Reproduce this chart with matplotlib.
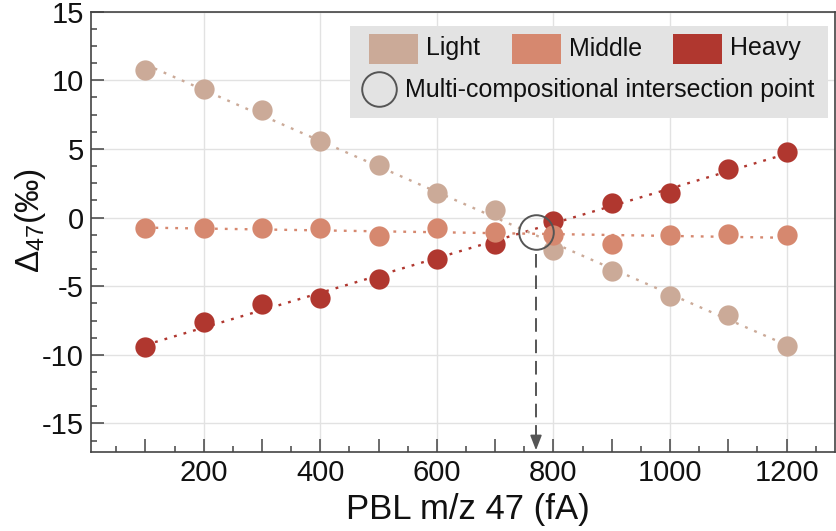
import numpy as np
import matplotlib
matplotlib.use("Agg")
import matplotlib.pyplot as plt
from matplotlib.ticker import MultipleLocator, FuncFormatter
from matplotlib.transforms import Affine2D
from matplotlib.patches import Rectangle
from matplotlib.lines import Line2D

plt.rcParams['font.family'] = ['Liberation Sans', 'DejaVu Sans']
plt.rcParams['mathtext.fontset'] = 'custom'
plt.rcParams['mathtext.rm'] = 'Liberation Sans'
plt.rcParams['mathtext.it'] = 'Liberation Sans'
plt.rcParams['axes.unicode_minus'] = False

# PBL m/z 47 beam intensity (fA)
pbl = [100, 200, 300, 400, 500, 600, 700, 800, 900, 1000, 1100, 1200]
# Δ47 offsets (‰) for the three gas compositions
light = [10.75, 9.34, 7.83, 5.58, 3.83, 1.80, 0.55, -2.37, -3.88, -5.72, -7.12, -9.38]
middle = [-0.77, -0.77, -0.77, -0.77, -1.35, -0.75, -1.03, -1.27, -1.93, -1.30, -1.20, -1.30]
heavy = [-9.45, -7.63, -6.30, -5.87, -4.50, -3.05, -1.93, -0.24, 1.08, 1.78, 3.52, 4.77]
series_names = ["Light", "Middle", "Heavy"]
# intersection of the three composition trends
cross_x = 770
cross_y = -1.03
xtick_labeled = [200, 400, 600, 800, 1000, 1200]

colors = {"Light": "#cbaa98", "Middle": "#d6886f", "Heavy": "#b0372f"}
W, H = 836, 531
fig = plt.figure(figsize=(W / 100, H / 100), dpi=100)
L, R, T, B = 90.7, 835.0, 11.7, 452.3
ax = fig.add_axes([L / W, 1 - B / H, (R - L) / W, (B - T) / H])
ax.set_xlim(6, 1283)
ax.set_ylim(-17.1, 15)

# grid
for gx in xtick_labeled:
    ax.axvline(gx, color="#e2e2e2", lw=1.0, zorder=0)
for gy in [-15, -10, -5, 0, 5, 10, 15]:
    ax.axhline(gy, color="#e2e2e2", lw=1.0, zorder=0)

x = np.array(pbl, dtype=float)
data = {"Light": light, "Middle": middle, "Heavy": heavy}
xs = np.array([min(pbl), max(pbl)], dtype=float)
for name in ["Heavy", "Light", "Middle"]:
    y = np.array(data[name])
    k, b = np.polyfit(x, y, 1)
    ax.plot(xs, k * xs + b, color=colors[name], lw=1.7,
            linestyle=(0, (1.2, 3.0)), zorder=2)
for name in ["Heavy", "Light", "Middle"]:
    ax.plot(x, data[name], "o", color=colors[name], ms=14.6, mew=0, zorder=3)

# intersection marker and arrow to the axis
ax.plot([cross_x], [cross_y], "o", ms=24.9, mfc="none", mec="#555555", mew=1.4, zorder=4)
ax.plot([cross_x, cross_x], [cross_y - 1.6, -15.9], color="#555555", lw=1.4,
        linestyle=(0, (7, 4)), zorder=4)
ax.annotate("", xy=(cross_x, -16.95), xytext=(cross_x, -15.9),
            arrowprops=dict(arrowstyle="-|>,head_length=0.9,head_width=0.35",
                            color="#555555", lw=1.2, shrinkA=0, shrinkB=0), zorder=4)

# axes styling
for s in ax.spines.values():
    s.set_color("#444444")
    s.set_linewidth(1.2)
ax.xaxis.set_major_locator(MultipleLocator(100))
ax.xaxis.set_minor_locator(MultipleLocator(50))
ax.xaxis.set_major_formatter(FuncFormatter(
    lambda v, p: f"{int(round(v))}" if int(round(v)) in xtick_labeled else ""))
ax.yaxis.set_major_locator(MultipleLocator(5))
ax.yaxis.set_minor_locator(MultipleLocator(1.25))
ax.yaxis.set_major_formatter(FuncFormatter(lambda v, p: f"{int(round(v))}"))
ax.tick_params(which="major", direction="in", length=9.4, width=1.1,
               color="#444444", labelsize=21, pad=5.0, labelcolor="#111111")
ax.tick_params(which="minor", direction="in", length=4.3, width=1.1, color="#444444")
ax.tick_params(top=False, right=False, which="both")

fig.text(468 / W, 1 - 510 / H, "PBL m/z 47 (fA)", ha="center", va="center",
         fontsize=25, color="#111111")
fig.text(30 / W, 1 - 220 / H, "Δ$_{47}$(‰)", ha="center", va="center",
         rotation=90, fontsize=24, color="#111111")

# legend drawn in pixel coordinates
px = Affine2D().scale(1 / W, -1 / H).translate(0, 1) + fig.transFigure
fig.patches.append(Rectangle((350, 26), 478, 92, transform=px,
                             facecolor="#e3e3e3", edgecolor="none", zorder=5))
patch_x = [369, 512, 673]
for name, px0 in zip(series_names, patch_x):
    fig.patches.append(Rectangle((px0, 33.5), 48.5, 30, transform=px,
                                 facecolor=colors[name], edgecolor="none", zorder=6))
    fig.text(px0 + 57, 48.5, name, transform=px, ha="left", va="center",
             fontsize=18, color="#111111", zorder=7)
fig.lines.append(Line2D([379.3], [89], transform=px, marker="o", ms=24.9,
                        mfc="none", mec="#555555", mew=1.4, zorder=7))
fig.text(405, 90, "Multi-compositional intersection point", transform=px,
         ha="left", va="center", fontsize=18, color="#111111", zorder=7)

fig.savefig("out.png", dpi=100)
